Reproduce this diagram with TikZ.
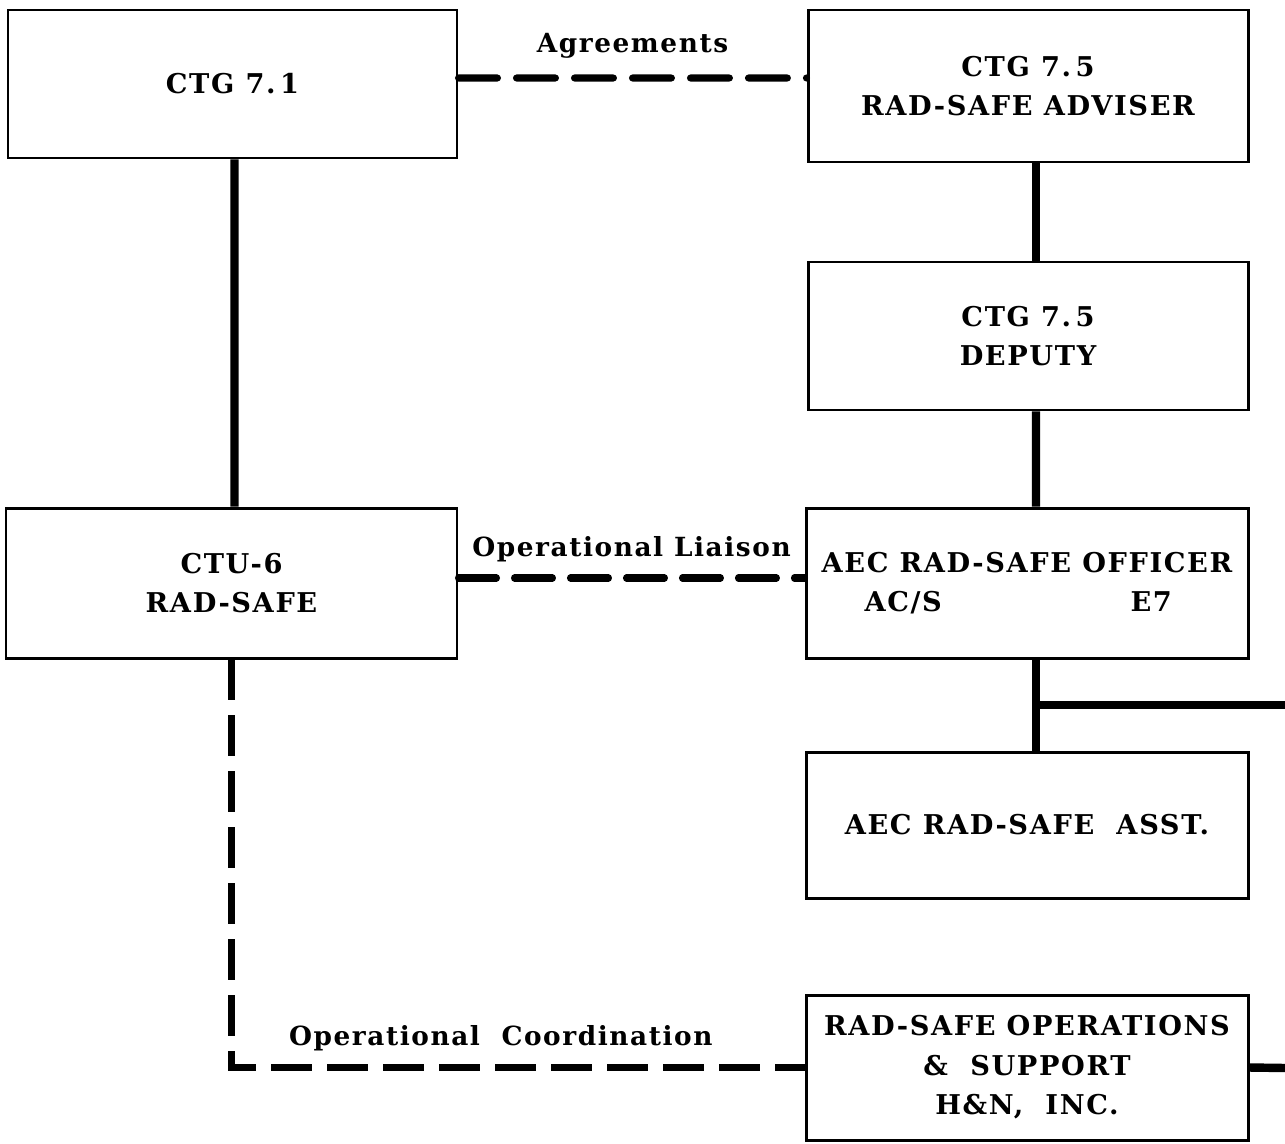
\documentclass[tikz,border=0pt]{standalone}
\usepackage{fontspec}
\setmainfont{DejaVu Serif}[LetterSpace=6]
\begin{document}
\begin{tikzpicture}[x=0.02cm,y=-0.02cm,
  box/.style={draw, line width=1.7pt, minimum width=#1*0.02cm, align=center, font=\bfseries\fontsize{15.5}{22.5}\selectfont, inner sep=0pt},
  solidline/.style={line width=4.8pt},
  dashline/.style={line width=4pt, dash pattern=on 0.8cm off 0.36cm, line cap=round},
  lbl/.style={font=\bfseries\fontsize{15}{18}\selectfont, inner sep=1pt}]
\useasboundingbox (0,0) rectangle (1285,1143);
\node[box=449, minimum height=148*0.02cm] (ctg71) at (232.5,84) {CTG 7.\,1};
\node[box=440, minimum height=152*0.02cm] (ctg75) at (1028,86) {CTG 7.\,5\\RAD-SAFE ADVISER};
\node[box=440, minimum height=148*0.02cm] (dep) at (1028,336) {CTG 7.\,5\\DEPUTY};
\node[box=451, minimum height=150*0.02cm] (ctu) at (231.5,583) {CTU-6\\RAD-SAFE};
\node[box=442, minimum height=150*0.02cm] (aec) at (1027,583) {AEC RAD-SAFE OFFICER\\\makebox[8.6cm]{\hspace*{1.05cm}AC/S\hfill E7\hspace*{1.4cm}}};
\node[box=442, minimum height=146*0.02cm] (asst) at (1027,825) {AEC RAD-SAFE\ \ ASST.};
\node[box=442, minimum height=145*0.02cm] (ops) at (1027,1067.5) {RAD-SAFE OPERATIONS\\\&\ \ SUPPORT\\H\&N,\ \ INC.};
% solid connectors
\draw[solidline] ([xshift=0.04cm]ctg71.south) -- ([xshift=0.06cm]ctu.north);
\draw[solidline] ([xshift=0.16cm]ctg75.south) -- ([xshift=0.16cm]dep.north);
\draw[solidline] ([xshift=0.16cm]dep.south) -- ([xshift=0.18cm]aec.north);
\draw[solidline] ([xshift=0.18cm]aec.south) -- ([xshift=0.18cm]asst.north);
\coordinate (branch) at (1036,705);
\coordinate (rightA) at (1285,705);
\draw[solidline] (branch) -- (rightA);
\coordinate (rightB) at (1285,1068);
\draw[solidline] (ops.east) -- (rightB);
% dashed connectors
\draw[dashline, dash pattern=on 0.78cm off 0.38cm] ([yshift=0.12cm]ctg71.east) -- node[lbl, above=0.28cm] {Agreements} ([yshift=0.16cm]ctg75.west);
\draw[dashline, dash pattern=on 0.76cm off 0.36cm] ([yshift=0.1cm]ctu.east) -- node[lbl, above=0.22cm] {Operational Liaison} ([yshift=0.1cm]aec.west);
\draw[dashline, line cap=butt, dash pattern=on 0.82cm off 0.3cm] (ctu.south) -- (ctu.south |- ops.west) -- node[lbl, pos=0.47, above=0.22cm] {Operational\ \ Coordination} (ops.west);
\end{tikzpicture}
\end{document}
